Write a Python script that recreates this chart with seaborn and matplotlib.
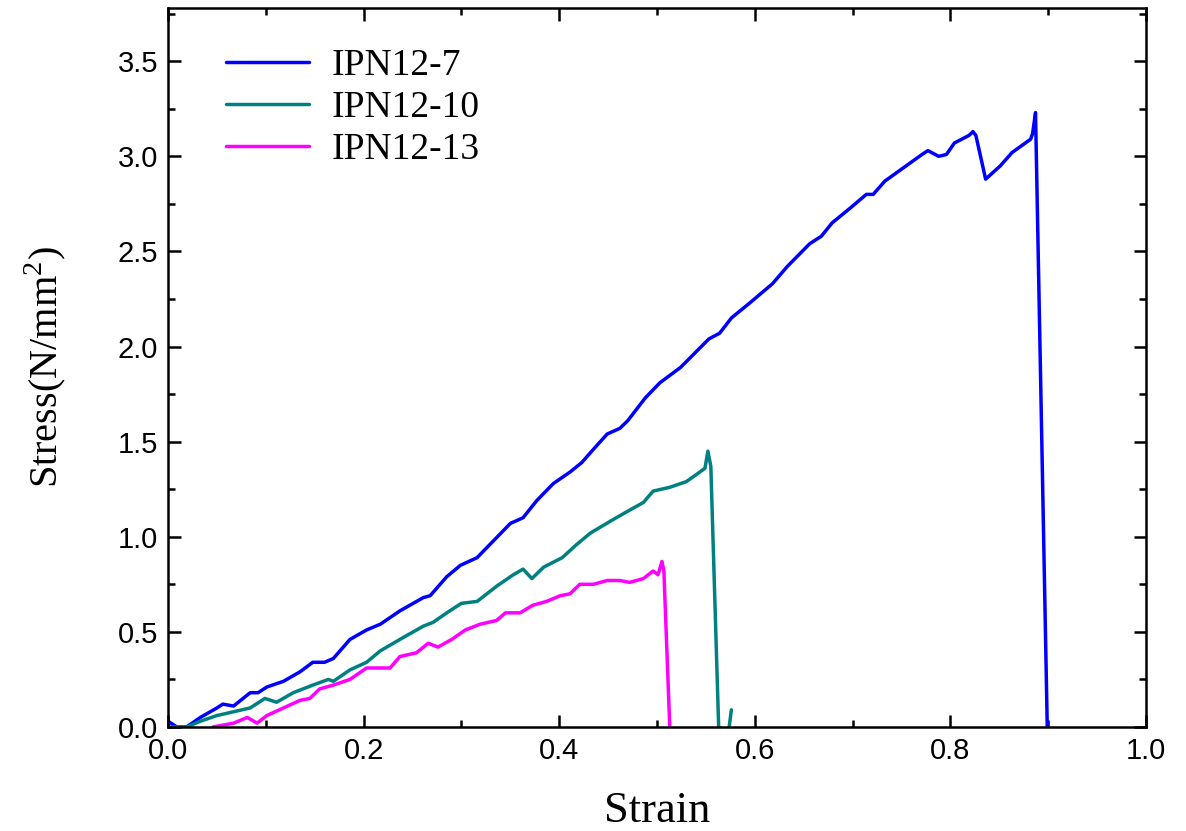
import seaborn as sns
import matplotlib.pyplot as plt
import matplotlib.ticker as ticker
import pandas as pd

# strain / stress
strain_7 = [0.0, 0.009, 0.019, 0.033, 0.05, 0.056, 0.067, 0.084, 0.092, 0.101, 0.118, 0.135,
            0.148, 0.160, 0.169, 0.186, 0.203, 0.217, 0.237, 0.261, 0.268, 0.285, 0.299, 0.316,
            0.333, 0.350, 0.363, 0.377, 0.394, 0.411, 0.423, 0.435, 0.449, 0.462, 0.470, 0.488,
            0.503, 0.524, 0.553, 0.564, 0.576, 0.595, 0.618, 0.633, 0.656, 0.668, 0.679, 0.698,
            0.714, 0.721, 0.733, 0.752, 0.771, 0.777, 0.788, 0.796, 0.804, 0.819, 0.823, 0.826,
            0.836, 0.851, 0.863, 0.882, 0.884, 0.887, 0.899]
stress_7 = [0.03, 0.0, 0.0, 0.05, 0.10, 0.12, 0.11, 0.18, 0.18, 0.21, 0.24, 0.29,
            0.34, 0.34, 0.36, 0.46, 0.51, 0.54, 0.61, 0.68, 0.69, 0.79, 0.85, 0.89,
            0.98, 1.07, 1.10, 1.19, 1.28, 1.34, 1.39, 1.46, 1.54, 1.57, 1.61, 1.73,
            1.81, 1.89, 2.04, 2.07, 2.15, 2.23, 2.33, 2.42, 2.54, 2.58, 2.65, 2.73,
            2.80, 2.80, 2.87, 2.94, 3.01, 3.03, 3.00, 3.01, 3.07, 3.11, 3.13, 3.11,
            2.88, 2.95, 3.02, 3.09, 3.12, 3.23, 0.0]

strain_10 = [0.0, 0.019, 0.033, 0.05, 0.067, 0.084, 0.099, 0.111, 0.128, 0.148, 0.164, 0.169,
             0.186, 0.203, 0.217, 0.237, 0.261, 0.271, 0.285, 0.300, 0.316, 0.336, 0.353, 0.363,
             0.372, 0.384, 0.403, 0.418, 0.432, 0.455, 0.472, 0.486, 0.496, 0.513, 0.530, 0.541,
             0.549, 0.552, 0.555, 0.563, 0.573, 0.576]
stress_10 = [0.0, 0.0, 0.03, 0.06, 0.08, 0.10, 0.15, 0.13, 0.18, 0.22, 0.25, 0.24,
             0.30, 0.34, 0.40, 0.46, 0.53, 0.55, 0.60, 0.65, 0.66, 0.74, 0.80, 0.83,
             0.78, 0.84, 0.89, 0.96, 1.02, 1.09, 1.14, 1.18, 1.24, 1.26, 1.29, 1.33,
             1.36, 1.45, 1.37, 0.0, -0.03, 0.09]

strain_13 = [0.046, 0.067, 0.081, 0.091, 0.101, 0.118, 0.135, 0.145, 0.155, 0.169, 0.186, 0.203,
             0.217, 0.227, 0.237, 0.254, 0.266, 0.276, 0.290, 0.304, 0.319, 0.336, 0.345, 0.360,
             0.373, 0.387, 0.401, 0.411, 0.421, 0.435, 0.449, 0.462, 0.472, 0.486, 0.496, 0.501,
             0.505, 0.507, 0.513]
stress_13 = [0.0, 0.02, 0.05, 0.02, 0.06, 0.10, 0.14, 0.15, 0.20, 0.22, 0.25, 0.31,
             0.31, 0.31, 0.37, 0.39, 0.44, 0.42, 0.46, 0.51, 0.54, 0.56, 0.60, 0.60,
             0.64, 0.66, 0.69, 0.70, 0.75, 0.75, 0.77, 0.77, 0.76, 0.78, 0.82, 0.80,
             0.87, 0.82, 0.0]

names = ['IPN12-7', 'IPN12-10', 'IPN12-13']
colour = {'IPN12-7': '#0000ff', 'IPN12-10': '#008080', 'IPN12-13': '#ff00ff'}

frames = []
for name, xs, ys in zip(names, [strain_7, strain_10, strain_13], [stress_7, stress_10, stress_13]):
    frames.append(pd.DataFrame({'strain': xs, 'stress': ys, 'sample': name}))
df = pd.concat(frames, ignore_index=True)

sns.set_style("ticks")
plt.rcParams['font.family'] = ['Liberation Sans', 'DejaVu Sans']
plt.rcParams['mathtext.fontset'] = 'custom'
plt.rcParams['mathtext.rm'] = 'Liberation Serif'
plt.rcParams['text.color'] = 'black'
plt.rcParams['axes.labelcolor'] = 'black'

fig = plt.figure(figsize=(11.86, 8.31), dpi=100)
ax = fig.add_axes([0.1417, 0.1252, 0.8246, 0.8652])

sns.lineplot(data=df, x='strain', y='stress', hue='sample', palette=colour,
             sort=False, estimator=None, linewidth=2.5, ax=ax)

ax.set_xlim(0, 1.0)
ax.set_ylim(0, 3.78)
ax.xaxis.set_major_locator(ticker.MultipleLocator(0.2))
ax.xaxis.set_minor_locator(ticker.MultipleLocator(0.1))
ax.yaxis.set_major_locator(ticker.MultipleLocator(0.5))
ax.yaxis.set_minor_locator(ticker.MultipleLocator(0.25))
ax.xaxis.set_major_formatter(ticker.FormatStrFormatter('%.1f'))
ax.yaxis.set_major_formatter(ticker.FormatStrFormatter('%.1f'))
ax.tick_params(which='both', direction='in', top=True, right=True, width=1.8,
               labelsize=21, colors='black')
ax.tick_params(which='major', length=9, pad=7)
ax.tick_params(which='minor', length=5)
for s in ax.spines.values():
    s.set_linewidth(1.8)
    s.set_color('black')

serif = ['Liberation Serif', 'DejaVu Serif']
ax.set_xlabel('Strain', family=serif, fontsize=32, labelpad=19)
ax.set_ylabel('Stress(N/mm$^{2}$)', family=serif, fontsize=29)
ax.yaxis.set_label_coords(-0.102, 0.5)

ax.legend(loc='upper left', bbox_to_anchor=(0.025, 0.99), frameon=False,
          prop={'family': serif, 'size': 27}, handlelength=2.2, handletextpad=0.6,
          labelspacing=0.2)

plt.savefig('out.png', dpi=100)
